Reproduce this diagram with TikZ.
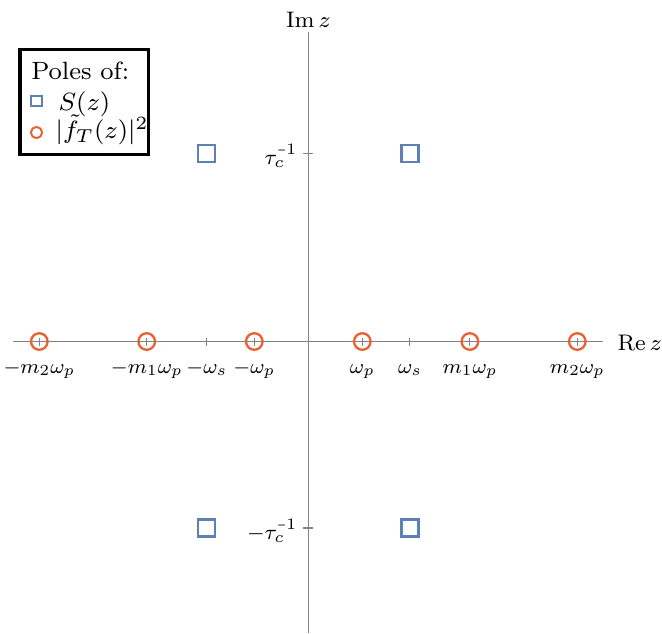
\documentclass[tikz,border=0pt]{standalone}
\usepackage{amsmath}
\definecolor{pblue}{RGB}{94,129,181}
\definecolor{porange}{RGB}{234,96,50}
\definecolor{axisgray}{RGB}{130,130,130}
\newcommand{\tl}[1]{\scalebox{0.82}{$#1$}}
\newcommand{\yl}[1]{\scalebox{0.85}{$#1$}}
\newcommand{\al}[1]{\scalebox{0.9}{$#1$}}
\newcommand{\invtau}{\tau_c^{\scalebox{0.6}[1]{$\scriptstyle-$}1}}
\begin{document}
\begin{tikzpicture}[x=0.32pt,y=-0.32pt,font=\footnotesize,
  axis/.style={draw=axisgray,line width=0.35pt},
  sq/.style={draw=pblue,line width=0.74pt,rectangle,minimum size=5.44pt,inner sep=0pt},
  ci/.style={draw=porange,line width=0.74pt,circle,minimum size=5.3pt,inner sep=0pt},
  lsq/.style={draw=pblue,line width=0.62pt,rectangle,minimum size=3.3pt,inner sep=0pt},
  lci/.style={draw=porange,line width=0.62pt,circle,minimum size=3.6pt,inner sep=0pt},
  ticklab/.style={anchor=base,inner sep=0pt},
  ytlab/.style={anchor=east,inner sep=0pt},
  axlab/.style={inner sep=0pt},
  legtext/.style={anchor=base west,inner sep=0pt}]
\useasboundingbox (0,0) rectangle (662,633);
% axes
\coordinate (xl) at (13,341.5);
\coordinate (xr) at (603,341.5);
\coordinate (yt) at (308.3,32);
\coordinate (yb) at (308.3,633);
\draw[axis] (xl) -- (xr);
\draw[axis] (yt) -- (yb);
\foreach \x in {39.3,146.7,206.7,254.3,362.3,409.9,469.9,577.3}
  \draw[axis] (\x,337.5) -- (\x,345.5);
\draw[axis] (303.3,153.5) -- (313.3,153.5);
\draw[axis] (303.3,528) -- (313.3,528);
% tick labels
\node[ticklab] (lm2) at (39.3,373) {\tl{-m_2\omega_p}};
\node[ticklab] (lm1) at (146.7,373) {\tl{-m_1\omega_p}};
\node[ticklab] (lms) at (206.7,373) {\tl{-\omega_s}};
\node[ticklab] (lmp) at (254.3,373) {\tl{-\omega_p}};
\node[ticklab] (lp) at (362.3,373) {\tl{\omega_p}};
\node[ticklab] (ls) at (409.9,373) {\tl{\omega_s}};
\node[ticklab] (l1) at (469.9,373) {\tl{m_1\omega_p}};
\node[ticklab] (l2) at (577.3,373) {\tl{m_2\omega_p}};
\node[ytlab] (tp) at (298,156) {\yl{\invtau}};
\node[ytlab] (tm) at (298,531) {\yl{-\invtau}};
\node[axlab,anchor=base west] (rez) at (617,350) {\al{\mathrm{Re}\,z}};
\node[axlab,anchor=base] (imz) at (308.3,27) {\al{\mathrm{Im}\,z}};
% poles of S(z)
\node[sq] (s1) at (206.7,153.5) {};
\node[sq] (s2) at (409.9,153.5) {};
\node[sq] (s3) at (206.7,528) {};
\node[sq] (s4) at (409.9,528) {};
% poles of |f_T|^2
\node[ci] (c1) at (39.3,341.5) {};
\node[ci] (c2) at (146.7,341.5) {};
\node[ci] (c3) at (254.3,341.5) {};
\node[ci] (c4) at (362.3,341.5) {};
\node[ci] (c5) at (469.9,341.5) {};
\node[ci] (c6) at (577.3,341.5) {};
% legend
\draw[line width=1pt] (20,49.5) rectangle (148.5,154.5);
\node[legtext] (lt) at (30.7,79) {Poles of:};
\node[lsq] (lgs) at (36.5,101) {};
\node[legtext] (lgst) at (58,110) {$S(z)$};
\node[lci] (lgc) at (36.5,132.5) {};
\node[legtext] (lgct) at (55,138) {$|\tilde{f}_T(z)|^2$};
\end{tikzpicture}
\end{document}
